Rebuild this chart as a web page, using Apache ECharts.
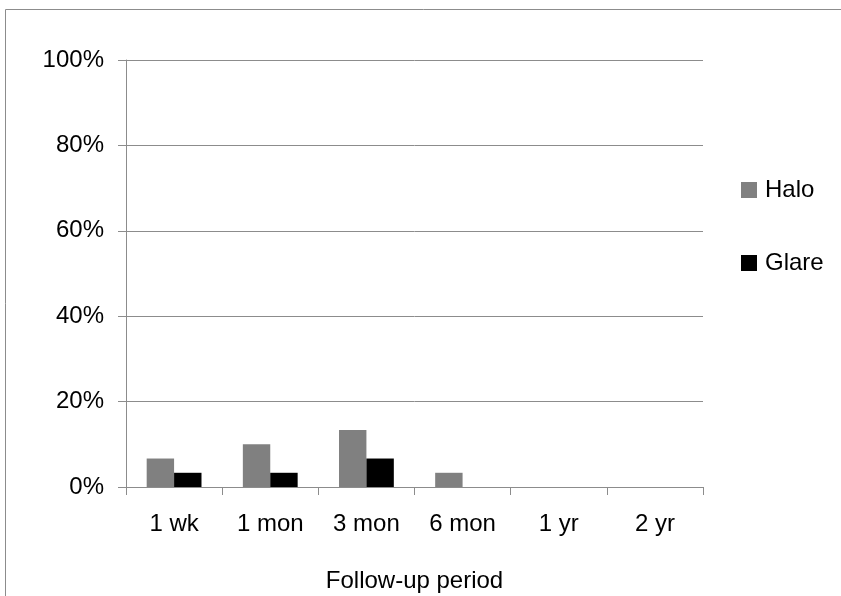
<!DOCTYPE html>
<html>
<head>
<meta charset="utf-8">
<script src="https://cdn.jsdelivr.net/npm/echarts@6/dist/echarts.min.js"></script>
<style>
  html, body { margin: 0; padding: 0; background: #fff; }
  #chart { width: 841px; height: 596px; }
</style>
</head>
<body>
<div id="chart"></div>
<script>
// Follow-up periods and the share of patients reporting each symptom (%)
const periods = ['1 wk', '1 mon', '3 mon', '6 mon', '1 yr', '2 yr'];
const halo = [6.67, 10, 13.33, 3.33, 0, 0];
const glare = [3.33, 3.33, 6.67, 0, 0, 0];
const yTicks = [0, 20, 40, 60, 80, 100];

const font = 'Liberation Sans, Arial, sans-serif';
const chart = echarts.init(document.getElementById('chart'));

chart.setOption({
  animation: false,
  textStyle: { fontFamily: font },
  graphic: [{
    type: 'rect',
    shape: { x: 5.5, y: 9.5, width: 900, height: 700 },
    style: { fill: 'none', stroke: '#8c8c8c', lineWidth: 1 },
    silent: true
  }],
  grid: {
    left: 126, right: 138, top: 60, bottom: 109,
    containLabel: false,
    outerBoundsMode: 'none'
  },
  legend: {
    orient: 'vertical',
    left: 741,
    top: 178,
    padding: 0,
    itemGap: 49,
    itemWidth: 16,
    itemHeight: 16,
    icon: 'rect',
    textStyle: { fontSize: 24, color: '#000', fontFamily: font, padding: [0, 0, 0, 3] },
    data: ['Halo', 'Glare']
  },
  xAxis: {
    type: 'category',
    data: periods,
    name: 'Follow-up period',
    nameLocation: 'middle',
    nameGap: 82,
    nameTextStyle: { fontSize: 24, color: '#000', fontFamily: font },
    axisLine: { lineStyle: { color: '#8c8c8c', width: 1 } },
    axisTick: { show: true, length: 8, interval: 0, lineStyle: { color: '#8c8c8c' } },
    axisLabel: { fontSize: 24, color: '#000', margin: 25, interval: 0, fontFamily: font }
  },
  yAxis: {
    type: 'value',
    min: yTicks[0],
    max: yTicks[yTicks.length - 1],
    interval: yTicks[1] - yTicks[0],
    axisLine: { show: true, lineStyle: { color: '#8c8c8c', width: 1 } },
    axisTick: { show: true, length: 8, lineStyle: { color: '#8c8c8c' } },
    axisLabel: { fontSize: 24, color: '#000', margin: 22, formatter: '{value}%', fontFamily: font },
    splitLine: { show: true, lineStyle: { color: '#8c8c8c', width: 1 } }
  },
  series: [
    {
      name: 'Halo',
      type: 'bar',
      data: halo,
      itemStyle: { color: '#808080' },
      barGap: '0%',
      barCategoryGap: '43%'
    },
    {
      name: 'Glare',
      type: 'bar',
      data: glare,
      itemStyle: { color: '#000000' },
      barGap: '0%',
      barCategoryGap: '43%'
    }
  ]
});
</script>
</body>
</html>
